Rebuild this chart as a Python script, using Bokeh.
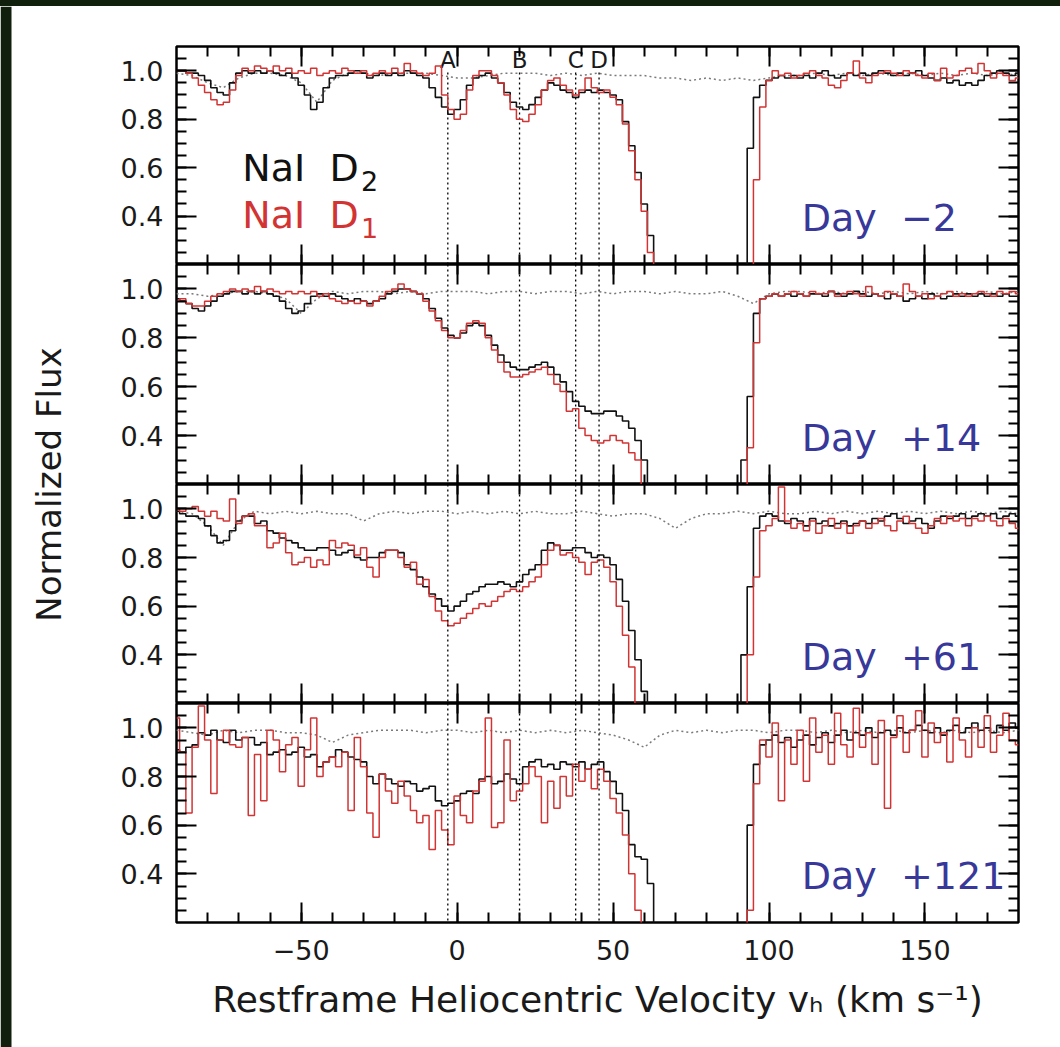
from math import pi
from bokeh.plotting import figure
from bokeh.models import (Range1d, LinearAxis, FixedTicker, PrintfTickFormatter,
                          CustomJSTickFormatter, Span, Label, BoxAnnotation, Div)
from bokeh.layouts import column, row
from bokeh.embed import file_html
from bokeh.resources import INLINE
from bokeh.core.properties import value

# ---------------- data ----------------
# spectrum bin centres (km/s), 2 km/s bins from -90 to 180
VELOCITY = list(range(-90, 182, 2))
# telluric model sampling (km/s)
TELL_V = list(range(-90, 185, 5))

# Day -2
D2_DAY_M2 = [
    1.00, 1.00, 0.99, 0.99, 0.98, 0.96, 0.93, 0.91, 0.90, 0.95,
    0.99, 1.00, 0.99, 1.00, 0.99, 1.00, 0.99, 0.98, 0.99, 0.97,
    0.94, 0.90, 0.84, 0.87, 0.93, 0.97, 0.98, 0.98, 0.99, 1.00,
    0.99, 0.97, 0.98, 0.99, 0.98, 0.99, 0.98, 1.00, 0.99, 0.98,
    0.97, 0.93, 0.89, 0.85, 0.82, 0.84, 0.88, 0.94, 0.97, 0.98,
    0.99, 0.97, 0.95, 0.91, 0.87, 0.85, 0.84, 0.86, 0.89, 0.92,
    0.95, 0.94, 0.92, 0.91, 0.89, 0.91, 0.92, 0.91, 0.92, 0.91,
    0.90, 0.88, 0.79, 0.69, 0.58, 0.45, 0.32, 0.10, 0.00, 0.00,
    0.00, 0.00, 0.00, 0.00, 0.00, 0.00, 0.00, 0.00, 0.00, 0.00,
    0.00, 0.10, 0.68, 0.89, 0.94, 0.96, 0.97, 0.98, 0.97, 0.98,
    0.97, 0.98, 0.97, 0.99, 1.00, 0.98, 0.97, 0.98, 0.99, 0.98,
    0.99, 0.98, 0.99, 1.00, 0.99, 0.98, 0.99, 0.98, 0.99, 1.00,
    0.98, 0.97, 0.96, 0.97, 0.95, 0.96, 0.94, 0.95, 0.94, 0.96,
    0.98, 0.99, 1.00, 0.99, 0.98, 0.99]
D1_DAY_M2 = [
    1.00, 1.00, 0.99, 0.97, 0.94, 0.91, 0.88, 0.86, 0.87, 0.92,
    0.98, 1.01, 1.00, 1.02, 1.01, 1.00, 1.02, 1.00, 1.01, 0.99,
    1.00, 0.99, 1.01, 0.98, 0.99, 1.00, 0.99, 1.01, 1.00, 0.99,
    1.00, 0.98, 0.99, 1.00, 0.99, 1.01, 0.99, 1.03, 1.00, 0.99,
    0.98, 0.99, 1.02, 0.90, 0.84, 0.80, 0.82, 0.92, 0.98, 1.00,
    1.00, 0.98, 0.95, 0.90, 0.84, 0.80, 0.79, 0.82, 0.86, 0.92,
    0.96, 0.97, 0.94, 0.92, 0.90, 0.92, 0.97, 0.93, 0.91, 0.92,
    0.89, 0.86, 0.78, 0.67, 0.55, 0.42, 0.25, 0.00, 0.00, 0.00,
    0.00, 0.00, 0.00, 0.00, 0.00, 0.00, 0.00, 0.00, 0.00, 0.00,
    0.00, 0.00, 0.00, 0.55, 0.85, 0.96, 1.00, 0.98, 0.99, 0.97,
    0.98, 0.99, 1.00, 0.98, 0.97, 0.94, 0.93, 0.96, 0.99, 1.04,
    0.97, 0.95, 0.98, 0.99, 1.00, 0.99, 0.98, 1.00, 0.99, 0.98,
    0.97, 0.99, 0.96, 1.01, 0.97, 0.98, 1.00, 1.01, 0.99, 1.03,
    1.00, 0.97, 0.99, 0.98, 0.96, 0.97]
TELL_DAY_M2 = [
    0.99, 0.98, 0.95, 0.93, 0.97, 0.99, 0.99, 0.98, 0.95, 0.87,
    0.96, 0.99, 0.99, 0.98, 0.99, 0.99, 0.99, 0.98, 0.97, 0.97,
    0.98, 0.99, 0.99, 0.99, 0.98, 0.99, 0.98, 0.99, 0.98, 0.98,
    0.98, 0.97, 0.97, 0.96, 0.97, 0.96, 0.97, 0.96, 0.97, 0.98,
    0.98, 0.99, 0.98, 0.99, 0.98, 0.99, 0.98, 0.99, 0.98, 0.99,
    0.98, 0.99, 0.98, 0.99, 0.98]

# Day +14
D2_DAY_14 = [
    0.96, 0.95, 0.94, 0.92, 0.91, 0.93, 0.95, 0.97, 0.98, 0.99,
    0.99, 0.98, 0.99, 0.98, 0.99, 0.98, 0.97, 0.95, 0.92, 0.90,
    0.91, 0.94, 0.97, 0.98, 0.97, 0.98, 0.97, 0.96, 0.95, 0.96,
    0.95, 0.94, 0.95, 0.96, 0.98, 0.99, 1.00, 1.00, 0.99, 0.98,
    0.96, 0.92, 0.88, 0.84, 0.81, 0.80, 0.82, 0.85, 0.86, 0.85,
    0.81, 0.77, 0.73, 0.70, 0.68, 0.67, 0.67, 0.68, 0.69, 0.70,
    0.68, 0.65, 0.62, 0.58, 0.54, 0.52, 0.50, 0.49, 0.49, 0.50,
    0.50, 0.48, 0.46, 0.43, 0.38, 0.30, 0.10, 0.00, 0.00, 0.00,
    0.00, 0.00, 0.00, 0.00, 0.00, 0.00, 0.00, 0.00, 0.00, 0.00,
    0.00, 0.30, 0.56, 0.90, 0.96, 0.97, 0.98, 0.97, 0.98, 0.97,
    0.98, 0.97, 0.98, 0.98, 0.97, 0.99, 0.98, 0.97, 0.98, 0.99,
    0.98, 0.97, 0.98, 0.97, 0.96, 0.98, 0.97, 0.95, 0.96, 0.97,
    0.96, 0.98, 0.97, 0.96, 0.97, 0.98, 0.97, 0.98, 0.97, 0.98,
    0.97, 0.98, 0.97, 0.98, 0.97, 0.97]
D1_DAY_14 = [
    0.95, 0.96, 0.94, 0.93, 0.93, 0.95, 0.97, 0.98, 0.99, 1.00,
    0.99, 1.00, 0.99, 1.01, 0.99, 1.00, 0.99, 0.98, 0.99, 0.98,
    0.99, 0.98, 0.99, 0.97, 0.98, 0.96, 0.95, 0.94, 0.95, 0.94,
    0.95, 0.93, 0.95, 0.97, 0.99, 1.00, 1.02, 1.00, 0.99, 0.98,
    0.95, 0.91, 0.87, 0.83, 0.80, 0.80, 0.83, 0.86, 0.87, 0.86,
    0.80, 0.75, 0.70, 0.66, 0.64, 0.64, 0.65, 0.66, 0.67, 0.68,
    0.65, 0.61, 0.58, 0.50, 0.51, 0.43, 0.40, 0.38, 0.37, 0.38,
    0.40, 0.38, 0.37, 0.33, 0.30, 0.10, 0.00, 0.00, 0.00, 0.00,
    0.00, 0.00, 0.00, 0.00, 0.00, 0.00, 0.00, 0.00, 0.00, 0.00,
    0.00, 0.00, 0.35, 0.78, 0.96, 0.97, 0.98, 0.97, 0.98, 0.99,
    0.98, 0.97, 0.99, 0.98, 0.98, 0.99, 0.97, 0.98, 0.99, 0.98,
    0.97, 1.01, 0.98, 0.97, 0.99, 0.98, 0.97, 1.02, 0.99, 0.97,
    0.98, 0.96, 0.97, 0.98, 0.99, 0.97, 0.98, 0.97, 0.98, 0.99,
    0.98, 0.97, 0.99, 0.98, 0.99, 0.98]
TELL_DAY_14 = [
    0.98, 0.98, 0.97, 0.98, 0.99, 0.99, 0.98, 0.96, 0.90, 0.96,
    0.99, 0.98, 0.99, 0.99, 0.98, 0.99, 0.98, 0.99, 0.99, 0.99,
    0.98, 0.99, 0.99, 0.98, 0.99, 0.99, 0.98, 0.99, 0.98, 0.99,
    0.99, 0.98, 0.99, 0.98, 0.98, 0.99, 0.97, 0.94, 0.98, 0.99,
    0.99, 0.98, 0.99, 0.98, 0.99, 0.98, 0.99, 0.98, 0.99, 0.98,
    0.99, 0.98, 0.99, 0.98, 0.99]

# Day +61
D2_DAY_61 = [
    0.99, 0.98, 0.97, 0.97, 0.96, 0.93, 0.89, 0.86, 0.87, 0.91,
    0.95, 0.97, 0.97, 0.94, 0.95, 0.91, 0.90, 0.88, 0.87, 0.86,
    0.84, 0.83, 0.83, 0.84, 0.84, 0.83, 0.81, 0.82, 0.83, 0.80,
    0.79, 0.80, 0.80, 0.82, 0.83, 0.83, 0.82, 0.77, 0.75, 0.72,
    0.68, 0.65, 0.63, 0.60, 0.58, 0.60, 0.62, 0.65, 0.66, 0.68,
    0.69, 0.69, 0.70, 0.69, 0.68, 0.70, 0.73, 0.75, 0.77, 0.83,
    0.86, 0.85, 0.83, 0.83, 0.84, 0.84, 0.82, 0.80, 0.81, 0.80,
    0.77, 0.71, 0.62, 0.50, 0.38, 0.25, 0.00, 0.00, 0.00, 0.00,
    0.00, 0.00, 0.00, 0.00, 0.00, 0.00, 0.00, 0.00, 0.00, 0.00,
    0.10, 0.40, 0.68, 0.92, 0.97, 0.98, 0.97, 0.95, 0.94, 0.96,
    0.95, 0.93, 0.96, 0.94, 0.95, 0.93, 0.94, 0.95, 0.93, 0.94,
    0.95, 0.94, 0.96, 0.95, 0.97, 0.98, 0.96, 0.94, 0.95, 0.96,
    0.94, 0.92, 0.95, 0.97, 0.96, 0.97, 0.98, 0.96, 0.97, 0.98,
    0.97, 0.98, 0.96, 0.97, 0.98, 0.97]
D1_DAY_61 = [
    1.00, 0.99, 1.00, 1.01, 0.99, 0.97, 0.99, 0.96, 0.95, 1.04,
    0.94, 0.97, 0.98, 0.93, 0.93, 0.84, 0.86, 0.90, 0.82, 0.77,
    0.78, 0.80, 0.76, 0.79, 0.77, 0.87, 0.84, 0.86, 0.85, 0.81,
    0.84, 0.76, 0.72, 0.80, 0.83, 0.83, 0.80, 0.76, 0.78, 0.69,
    0.71, 0.64, 0.58, 0.54, 0.52, 0.53, 0.55, 0.57, 0.59, 0.61,
    0.60, 0.62, 0.64, 0.66, 0.67, 0.66, 0.68, 0.70, 0.72, 0.77,
    0.83, 0.85, 0.81, 0.82, 0.80, 0.78, 0.73, 0.78, 0.79, 0.76,
    0.70, 0.60, 0.48, 0.35, 0.20, 0.00, 0.00, 0.00, 0.00, 0.00,
    0.00, 0.00, 0.00, 0.00, 0.00, 0.00, 0.00, 0.00, 0.00, 0.00,
    0.00, 0.00, 0.40, 0.72, 0.91, 0.93, 0.96, 1.09, 0.95, 0.92,
    0.94, 0.91, 0.95, 0.90, 0.93, 0.96, 0.92, 0.94, 0.90, 0.93,
    0.95, 0.92, 0.94, 0.96, 0.93, 0.91, 0.95, 0.97, 0.94, 0.92,
    0.90, 0.93, 0.96, 0.94, 0.97, 0.95, 0.96, 0.93, 0.96, 0.95,
    0.97, 0.95, 0.93, 0.96, 0.94, 0.92]
TELL_DAY_61 = [
    0.99, 0.98, 0.93, 0.85, 0.95, 0.99, 0.98, 0.99, 0.98, 0.99,
    0.98, 0.98, 0.95, 0.98, 0.99, 0.98, 0.99, 0.99, 0.98, 0.99,
    0.98, 0.99, 0.98, 0.99, 0.98, 0.98, 0.99, 0.98, 0.97, 0.98,
    0.98, 0.96, 0.92, 0.96, 0.98, 0.98, 0.99, 0.98, 0.99, 0.98,
    0.98, 0.99, 0.98, 0.99, 0.98, 0.99, 0.98, 0.99, 0.98, 0.99,
    0.98, 0.99, 0.98, 0.99, 0.98]

# Day +121
D2_DAY_121 = [
    0.91, 0.90, 0.92, 0.93, 0.98, 0.97, 0.99, 0.95, 0.94, 0.99,
    0.95, 0.96, 0.96, 0.93, 0.94, 0.89, 0.90, 0.91, 0.89, 0.90,
    0.92, 0.88, 0.89, 0.84, 0.86, 0.88, 0.91, 0.90, 0.88, 0.87,
    0.86, 0.80, 0.77, 0.81, 0.79, 0.77, 0.76, 0.78, 0.77, 0.74,
    0.75, 0.76, 0.70, 0.68, 0.69, 0.70, 0.73, 0.74, 0.73, 0.79,
    0.80, 0.77, 0.78, 0.81, 0.79, 0.77, 0.84, 0.86, 0.87, 0.84,
    0.85, 0.83, 0.86, 0.85, 0.84, 0.86, 0.83, 0.85, 0.86, 0.82,
    0.78, 0.73, 0.66, 0.52, 0.47, 0.46, 0.36, 0.00, 0.00, 0.00,
    0.00, 0.00, 0.00, 0.00, 0.00, 0.00, 0.00, 0.00, 0.00, 0.00,
    0.00, 0.10, 0.60, 0.85, 0.93, 0.95, 0.97, 0.94, 0.96, 0.92,
    0.95, 0.97, 0.93, 0.96, 0.98, 0.94, 0.97, 0.99, 0.95, 0.98,
    0.97, 1.00, 0.96, 0.98, 0.99, 0.97, 1.00, 0.98, 0.99, 1.01,
    0.99, 0.98, 1.00, 0.97, 0.99, 1.01, 0.98, 1.00, 1.02, 0.99,
    1.00, 0.98, 1.01, 0.99, 1.02, 1.00]
D1_DAY_121 = [
    1.04, 0.90, 0.65, 0.92, 1.09, 0.95, 0.73, 0.95, 0.99, 0.93,
    0.92, 0.96, 0.64, 0.89, 0.70, 0.99, 0.95, 0.82, 0.93, 0.96,
    0.76, 0.91, 1.04, 0.80, 0.86, 0.88, 0.84, 0.90, 0.66, 0.96,
    0.84, 0.65, 0.55, 0.81, 0.74, 0.69, 0.78, 0.72, 0.66, 0.61,
    0.64, 0.50, 0.66, 0.58, 0.52, 0.72, 0.64, 0.61, 0.74, 0.78,
    1.04, 0.59, 0.61, 0.95, 0.70, 0.74, 0.77, 0.84, 0.80, 0.61,
    0.78, 0.67, 0.80, 0.72, 0.85, 0.78, 0.83, 0.75, 0.83, 0.78,
    0.71, 0.65, 0.56, 0.40, 0.25, 0.00, 0.00, 0.00, 0.00, 0.00,
    0.00, 0.00, 0.00, 0.00, 0.00, 0.00, 0.00, 0.00, 0.00, 0.00,
    0.00, 0.00, 0.25, 0.77, 0.95, 0.88, 1.02, 0.70, 0.95, 0.85,
    0.99, 0.78, 1.04, 0.90, 0.97, 0.85, 1.06, 0.93, 0.88, 1.08,
    0.92, 0.98, 0.85, 1.03, 0.67, 0.96, 1.05, 0.90, 0.99, 1.07,
    0.88, 1.02, 0.94, 0.98, 0.86, 1.04, 0.95, 0.88, 1.00, 0.92,
    1.05, 0.90, 0.97, 1.06, 0.95, 0.93]
TELL_DAY_121 = [
    0.99, 0.98, 0.97, 0.99, 0.98, 0.99, 0.99, 0.98, 0.98, 0.97,
    0.94, 0.97, 0.98, 0.99, 0.99, 0.99, 0.98, 0.99, 0.99, 0.98,
    0.99, 0.98, 0.99, 0.98, 0.99, 0.98, 0.99, 0.98, 0.97, 0.95,
    0.92, 0.97, 0.99, 0.98, 0.99, 0.98, 0.99, 0.99, 0.98, 0.99,
    0.99, 0.98, 0.99, 0.98, 0.99, 0.98, 0.99, 0.98, 0.99, 0.98,
    0.99, 0.98, 0.99, 0.98, 0.99]

NB = "\u00a0"
PANEL_LABELS = ["Day" + NB + NB + "\u22122", "Day" + NB + NB + "+14",
                "Day" + NB + NB + "+61", "Day" + NB + NB + "+121"]
D2_SERIES = [D2_DAY_M2, D2_DAY_14, D2_DAY_61, D2_DAY_121]
D1_SERIES = [D1_DAY_M2, D1_DAY_14, D1_DAY_61, D1_DAY_121]
TELL_SERIES = [TELL_DAY_M2, TELL_DAY_14, TELL_DAY_61, TELL_DAY_121]

COMPONENT_NAMES = ["A", "B", "C", "D"]
COMPONENT_V = [-3.0, 20.0, 38.0, 45.5]

X_TICKS = [-50, 0, 50, 100, 150]
X_MINOR = list(range(-80, 180, 10))
Y_TICKS = [0.4, 0.6, 0.8, 1.0]
Y_MINOR = [0.25, 0.30, 0.35, 0.40, 0.45, 0.50, 0.55, 0.60, 0.65, 0.70,
           0.75, 0.80, 0.85, 0.90, 0.95, 1.00, 1.05]

X_LABEL = "Restframe Heliocentric Velocity v\u2095 (km s\u207b\u00b9)"
Y_LABEL = "Normalized Flux"
SPECIES = "NaI" + NB + NB + "D"

# ---------------- style ----------------
FONT = "DejaVu Sans"
DARK = "#10200d"
BLUE = "#38389a"
RED = "#d23434"
GREY = "#7a7a7a"
INK = "#1a1a1a"

X_START, X_END = -90, 180
Y_START, Y_END = 0.2, 1.1
FRAME_HEIGHTS = [218, 220, 219, 219]
TOP_BORDER = 40
BOTTOM_BORDER = 125
PANEL_W = 959
LEFT_B, RIGHT_B = 75, 42

EMPTY = "return ''"
MINUS = "return tick < 0 ? '\\u2212' + Math.abs(tick) : String(tick)"


def style_axis(ax, major, minor, formatter):
    ax.ticker = FixedTicker(ticks=major, minor_ticks=minor)
    ax.formatter = formatter
    ax.major_tick_in = 20
    ax.major_tick_out = 0
    ax.minor_tick_in = 10
    ax.minor_tick_out = 0
    ax.major_tick_line_width = 2
    ax.minor_tick_line_width = 2
    ax.major_tick_line_color = "black"
    ax.minor_tick_line_color = "black"
    ax.axis_line_color = None
    ax.major_label_text_font = FONT
    ax.major_label_text_font_size = "27px"
    ax.major_label_text_color = INK


panels = []
for k in range(4):
    top_b = TOP_BORDER if k == 0 else 0
    bot_b = BOTTOM_BORDER if k == 3 else 0
    p = figure(width=PANEL_W, height=FRAME_HEIGHTS[k] + top_b + bot_b,
               x_range=Range1d(X_START, X_END), y_range=Range1d(Y_START, Y_END),
               x_axis_type=None, y_axis_type=None, title=None,
               toolbar_location=None, output_backend="svg",
               min_border_left=LEFT_B, min_border_right=RIGHT_B,
               min_border_top=top_b, min_border_bottom=bot_b)
    p.outline_line_color = "black"
    p.outline_line_width = 2.5
    p.background_fill_color = "white"
    p.border_fill_color = "white"

    left = LinearAxis()
    style_axis(left, Y_TICKS, Y_MINOR, PrintfTickFormatter(format="%.1f"))
    left.major_label_standoff = 13
    p.add_layout(left, "left")

    right = LinearAxis(fixed_location=X_END)
    style_axis(right, Y_TICKS, Y_MINOR, CustomJSTickFormatter(code=EMPTY))
    p.add_layout(right, "right")

    top = LinearAxis(fixed_location=Y_END)
    style_axis(top, X_TICKS, X_MINOR, CustomJSTickFormatter(code=EMPTY))
    p.add_layout(top, "above")

    if k < 3:
        bottom = LinearAxis(fixed_location=Y_START)
        style_axis(bottom, X_TICKS, X_MINOR, CustomJSTickFormatter(code=EMPTY))
    else:
        bottom = LinearAxis(axis_label=X_LABEL)
        style_axis(bottom, X_TICKS, X_MINOR, CustomJSTickFormatter(code=MINUS))
        bottom.major_label_standoff = 17
        bottom.axis_label_standoff = 16
        bottom.axis_label_text_font = FONT
        bottom.axis_label_text_font_size = "36px"
        bottom.axis_label_text_font_style = "normal"
        bottom.axis_label_text_color = INK
    p.add_layout(bottom, "below")

    # telluric model
    p.line(TELL_V, TELL_SERIES[k], line_color=GREY, line_width=1.5, line_dash="2 3")

    # absorption components
    if k == 0:
        p.segment(x0=COMPONENT_V, y0=[Y_START] * 4, x1=COMPONENT_V, y1=[1.0] * 4,
                  line_color="black", line_width=1.3, line_dash="2 3")
        p.text(x=COMPONENT_V, y=[1.045] * 4, text=COMPONENT_NAMES,
               text_align="center", text_baseline="middle",
               text_font=value(FONT), text_font_size="23px", text_color=INK)
    else:
        for v in COMPONENT_V:
            p.add_layout(Span(location=v, dimension="height", line_color="black",
                              line_width=1.3, line_dash="2 3"))

    p.step(VELOCITY, D2_SERIES[k], mode="center", line_color="#111111", line_width=1.6)
    p.step(VELOCITY, D1_SERIES[k], mode="center", line_color=RED, line_width=1.5)

    p.add_layout(Label(x=110.5, y=0.39, text=PANEL_LABELS[k], text_font=FONT,
                       text_font_size="38px", text_color=BLUE,
                       text_baseline="alphabetic", text_align="left"))
    if k == 0:
        p.add_layout(Label(x=-68.9, y=0.60, text=SPECIES, text_font=FONT,
                           text_font_size="38px", text_color="#111111",
                           text_baseline="alphabetic"))
        p.add_layout(Label(x=-30.8, y=0.545, text="2", text_font=FONT,
                           text_font_size="27px", text_color="#111111",
                           text_baseline="alphabetic"))
        p.add_layout(Label(x=-68.9, y=0.405, text=SPECIES, text_font=FONT,
                           text_font_size="38px", text_color=RED,
                           text_baseline="alphabetic"))
        p.add_layout(Label(x=-30.8, y=0.35, text="1", text_font=FONT,
                           text_font_size="27px", text_color=RED,
                           text_baseline="alphabetic"))
    panels.append(p)

# dark photo border strips and the shared y label
top_strip = Div(text="", width=1060, height=6,
                styles={"background-color": DARK, "margin": "0", "padding": "0"})

side = figure(width=101, height=1041, x_range=Range1d(0, 101), y_range=Range1d(0, 1041),
              x_axis_type=None, y_axis_type=None, title=None,
              toolbar_location=None, output_backend="svg", min_border=0)
side.outline_line_color = None
side.background_fill_color = "white"
side.border_fill_color = "white"
side.add_layout(BoxAnnotation(left=0, right=11, fill_color=DARK, fill_alpha=1.0,
                              line_color=None))
side.add_layout(Label(x=48, y=563, text=Y_LABEL, angle=pi / 2, text_align="center",
                      text_baseline="middle", text_font=FONT, text_font_size="34px",
                      text_color=INK))

layout = column(top_strip, row(side, column(*panels)))

open("out.html", "w").write(file_html(layout, INLINE, title="NaI D profiles"))
